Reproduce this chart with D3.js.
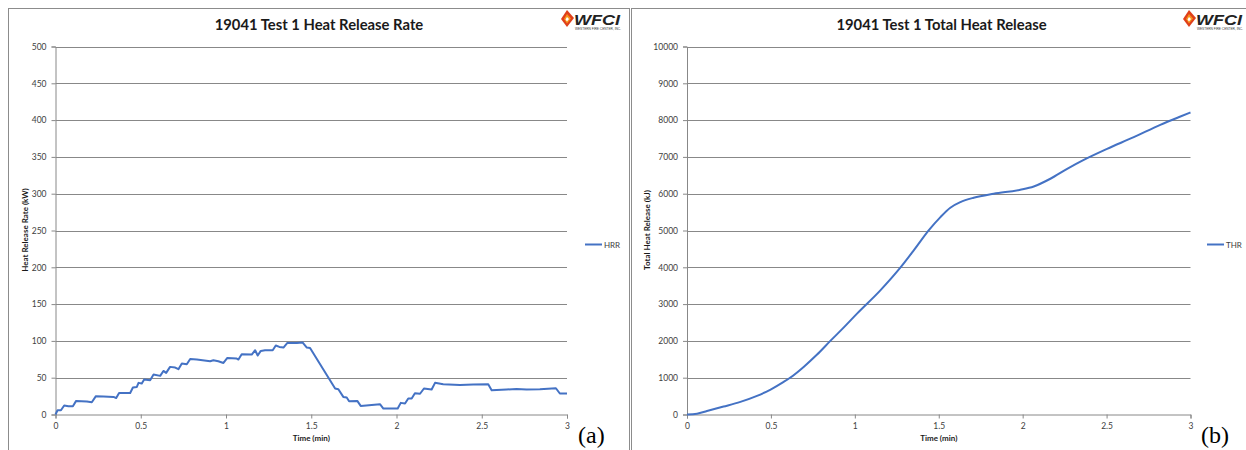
<!DOCTYPE html>
<html><head><meta charset="utf-8">
<script src="https://cdn.jsdelivr.net/npm/d3@7"></script>
<style>
html,body{margin:0;padding:0;background:#fff;}
svg{display:block;font-family:Lato,"Open Sans",sans-serif;}
</style></head>
<body>
<svg id="c" width="1246" height="450"></svg>
<script>
// ---- data ----
const hrrTime = [0,0.012,0.032,0.051,0.076,0.102,0.121,0.184,0.213,0.237,0.281,0.34,0.356,0.373,0.428,0.438,0.454,0.477,0.487,0.506,0.52,0.555,0.575,0.614,0.633,0.649,0.672,0.702,0.721,0.741,0.77,0.79,0.829,0.907,0.926,0.955,0.985,1.008,1.063,1.073,1.092,1.151,1.171,1.186,1.204,1.229,1.274,1.292,1.313,1.337,1.36,1.415,1.45,1.474,1.493,1.64,1.659,1.688,1.708,1.722,1.77,1.79,1.903,1.923,2.007,2.025,2.05,2.069,2.089,2.108,2.138,2.161,2.206,2.226,2.274,2.372,2.45,2.538,2.558,2.646,2.704,2.763,2.841,2.935,2.958,3.0];
const hrrValues = [0,5.8,5.8,12.2,11.3,11.3,18.5,17.6,16.7,24.9,24.4,23.9,22.5,29.3,29.3,29.3,36.6,37.5,43,42,47.5,46.6,54.3,52.5,59.2,56.5,64.7,63.8,61.5,69.2,68.3,75.5,74.7,72.4,73.7,72.4,70,76.9,76,74.7,81.9,81.5,87.3,80.1,86.4,87.3,87.3,93.7,91.8,91,97.3,97.3,97.8,91,90.4,35.3,34.3,23.9,23,18,18.5,11.7,14,8.1,8.1,15.8,14.9,21.7,21.7,28.8,28.2,35.3,34,43,41.1,40.2,40.6,41.1,33,34,34.8,34,34.4,35.7,28.5,28.5];
const thrTime = [0,0.06,0.119,0.218,0.318,0.417,0.498,0.576,0.616,0.695,0.775,0.854,0.933,1.013,1.152,1.271,1.351,1.44,1.51,1.569,1.629,1.708,1.827,1.986,2.066,2.165,2.265,2.364,2.503,2.662,2.82,2.94,3.0];
const thrValues = [0,22,95,215,343,506,678,886,1004,1293,1628,2000,2361,2742,3374,3990,4460,5003,5364,5619,5771,5890,5999,6108,6197,6406,6677,6920,7220,7536,7872,8097,8206];
const xTicks = [0,0.5,1,1.5,2,2.5,3];
const hrrTicks = [0,50,100,150,200,250,300,350,400,450,500];
const thrTicks = [0,1000,2000,3000,4000,5000,6000,7000,8000,9000,10000];

const svg = d3.select("#c");
const grid = "#888888";
const lineColor = "#4472C4";
const txt = "#404040";

function panel(o){
  const g = svg.append("g");
  g.append("rect").attr("x",o.px).attr("y",8.5).attr("width",o.pw).attr("height",460)
    .attr("fill","none").attr("stroke","#8c8c8c").attr("stroke-width",1);
  const x = d3.scaleLinear().domain([0,3]).range([o.x0,o.x1]);
  const y = d3.scaleLinear().domain([0,o.ymax]).range([414.5,46.5]);
  g.append("g").selectAll("line").data(o.yTicks.slice(1)).join("line")
    .attr("x1",o.x0).attr("x2",o.x1).attr("y1",d=>Math.round(y(d))+0.5).attr("y2",d=>Math.round(y(d))+0.5)
    .attr("stroke",grid).attr("stroke-width",1);
  const ya = g.append("g").attr("transform",`translate(${o.x0},0)`)
    .call(d3.axisLeft(y).tickValues(o.yTicks).tickSize(4).tickPadding(5).tickFormat(d3.format("d")));
  ya.select(".domain").attr("stroke",grid);
  ya.selectAll(".tick line").attr("stroke",grid);
  ya.selectAll("text").attr("fill",txt).style("font-size","8.5px").style("font-family","Lato");
  const xa = g.append("g").attr("transform",`translate(0,414.5)`)
    .call(d3.axisBottom(x).tickValues(xTicks).tickSize(4).tickPadding(4).tickFormat(d=>String(d)));
  xa.select(".domain").attr("stroke",grid);
  xa.selectAll(".tick line").attr("stroke",grid);
  xa.selectAll("text").attr("fill",txt).style("font-size","8.5px").style("font-family","Lato");
  const line = d3.line().x((d,i)=>x(o.t[i])).y(d=>y(d)).curve(o.curve);
  g.append("path").datum(o.v).attr("d",line).attr("fill","none")
    .attr("stroke",lineColor).attr("stroke-width",2).attr("stroke-linejoin","round");
  g.append("text").attr("x",o.px+o.pw/2).attr("y",30).attr("text-anchor","middle")
    .style("font-family","Lato").style("font-weight","bold").style("font-size","14.8px").attr("fill","#1a1a1a").text(o.title);
  g.append("text").attr("x",(o.x0+o.x1)/2).attr("y",441).attr("text-anchor","middle")
    .style("font-family","Lato").style("font-weight","bold").style("font-size","8px").attr("fill","#1a1a1a").text("Time (min)");
  g.append("text").attr("transform",`translate(${o.ytx},230) rotate(-90)`).attr("text-anchor","middle")
    .style("font-family","Lato").style("font-weight","bold").style("font-size","8px").attr("fill","#1a1a1a").text(o.ytitle);
  g.append("line").attr("x1",o.lx).attr("x2",o.lx+17).attr("y1",244.5).attr("y2",244.5).attr("stroke",lineColor).attr("stroke-width",2);
  g.append("text").attr("x",o.lx+19).attr("y",247.5).style("font-family","Lato").style("font-size","8px").attr("fill",txt).text(o.legend);
  g.append("text").attr("x",o.labx).attr("y",443).style("font-family","'Liberation Serif','DejaVu Serif',serif")
    .style("font-size","24px").attr("fill","#000").text(o.label);
  const lg = g.append("g").attr("transform",`translate(${o.logox},10)`);
  lg.append("path").attr("d","M6,0 L13,8 L6,17 L0,9 Z").attr("fill","#e0401a");
  lg.append("path").attr("d","M6,4 L10,8.5 L6,13.5 L3,9 Z").attr("fill","#f7941d");
  lg.append("path").attr("d","M6,7 L8,9 L6,11.5 L4.5,9.5 Z").attr("fill","#ffffff");
  lg.append("text").attr("x",13).attr("y",15).style("font-family","'Liberation Sans'").style("font-weight","bold").style("font-style","italic")
    .style("font-size","14px").attr("fill","#222").attr("textLength",46).attr("lengthAdjust","spacingAndGlyphs").text("WFCI");
  lg.append("text").attr("x",14).attr("y",20).style("font-family","'Liberation Sans'").style("font-size","2.6px")
    .attr("fill","#333").attr("textLength",46).attr("lengthAdjust","spacingAndGlyphs").text("WESTERN FIRE CENTER, INC.");
}

panel({px:8.5,pw:621,x0:55.5,x1:567,ymax:500,yTicks:hrrTicks,t:hrrTime,v:hrrValues,curve:d3.curveLinear,
  title:"19041 Test 1 Heat Release Rate",ytitle:"Heat Release Rate (kW)",ytx:28,legend:"HRR",lx:585,label:"(a)",labx:578,logox:561});
panel({px:631.5,pw:620,x0:687,x1:1190.5,ymax:10000,yTicks:thrTicks,t:thrTime,v:thrValues,curve:d3.curveMonotoneX,
  title:"19041 Test 1 Total Heat Release",ytitle:"Total Heat Release (kJ)",ytx:650,legend:"THR",lx:1207,label:"(b)",labx:1201,logox:1183});
</script>
</body></html>
